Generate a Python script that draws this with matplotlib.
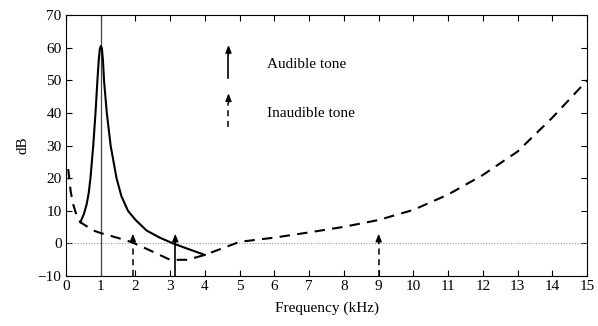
import numpy as np
import matplotlib
matplotlib.use("Agg")
import matplotlib.pyplot as plt

plt.rcParams["font.family"] = ["Liberation Serif", "DejaVu Serif"]

# masking curve around the 1 kHz masker (solid)
mask_f = [0.42, 0.52, 0.60, 0.66, 0.71, 0.79, 0.855, 0.91, 0.95, 0.98, 1.01, 1.04, 1.07, 1.10, 1.18, 1.29, 1.46, 1.60, 1.79, 2.0, 2.32, 2.7, 3.09, 3.5, 4.0]
mask_db = [6.5, 9.0, 12.0, 15.5, 20.0, 30.0, 40.0, 50.0, 56.5, 59.6, 60.5, 59.6, 56.0, 50.0, 40.0, 30.0, 20.0, 14.5, 10.0, 7.3, 4.0, 1.8, 0.0, -1.6, -3.5]

# threshold in quiet (dashed)
thr_f = [0.07, 0.14, 0.21, 0.3, 0.42, 0.79, 1.0, 1.5, 1.9, 2.5, 3.0, 3.5, 4.0, 4.5, 5.0, 6.0, 7.0, 8.0, 9.0, 10.0, 11.0, 12.0, 13.0, 14.0, 15.0]
thr_db = [22.8, 16.0, 12.1, 9.0, 6.5, 4.0, 3.2, 1.7, 0.4, -2.5, -5.0, -5.0, -3.5, -1.5, 0.5, 1.8, 3.4, 5.1, 7.2, 10.3, 15.0, 21.0, 28.2, 38.6, 50.0]

# tones
tone_f = [1.93, 3.15, 9.0]
tone_db = [3.0, 3.0, 3.0]
tone_audible = [False, True, False]

masker_f = 1.0

fig = plt.figure(figsize=(5.98, 3.26), dpi=100)
ax = fig.add_axes([0.110, 0.153, 0.872, 0.801])

ax.set_xlim(0, 15)
ax.set_ylim(-10, 70)

ax.axhline(0, color="#999999", lw=0.8, ls=(0, (1, 1.5)))
ax.axvline(masker_f, color="#444444", lw=0.9)

ax.plot(mask_f, mask_db, color="black", lw=1.5)
ax.plot(thr_f, thr_db, color="black", lw=1.5, dashes=(5, 3.5))

head = 3.0
for f, db, aud in zip(tone_f, tone_db, tone_audible):
    ls = "-" if aud else (0, (4, 3))
    ax.plot([f, f], [-10, db - head], color="black", lw=1.2 if aud else 1.1, ls=ls)
    ax.annotate("", xy=(f, db), xytext=(f, db - head),
                arrowprops=dict(arrowstyle="-|>,head_length=0.45,head_width=0.18",
                                color="black", lw=1.0, shrinkA=0, shrinkB=0))

# legend
lx = 4.68
ax.plot([lx, lx], [50.6, 57.8], color="black", lw=1.2)
ax.annotate("", xy=(lx, 60.8), xytext=(lx, 57.8),
            arrowprops=dict(arrowstyle="-|>,head_length=0.45,head_width=0.18",
                            color="black", lw=1.0, shrinkA=0, shrinkB=0))
ax.plot([lx, lx], [35.8, 43.0], color="black", lw=1.1, ls=(0, (4, 3)))
ax.annotate("", xy=(lx, 46.0), xytext=(lx, 43.0),
            arrowprops=dict(arrowstyle="-|>,head_length=0.45,head_width=0.18",
                            color="black", lw=1.0, shrinkA=0, shrinkB=0))
ax.text(5.78, 54.7, "Audible tone", fontsize=11, va="center", ha="left")
ax.text(5.78, 39.9, "Inaudible tone", fontsize=11, va="center", ha="left")

ax.set_xticks(range(0, 16))
ax.set_yticks(range(-10, 71, 10))
ax.set_yticklabels(["\u221210"] + [str(v) for v in range(0, 71, 10)])
ax.tick_params(direction="in", top=True, right=True, labelsize=11, length=4, width=0.8, pad=3)
for s in ax.spines.values():
    s.set_linewidth(0.8)

ax.set_xlabel("Frequency (kHz)", fontsize=11, labelpad=6)
ax.set_ylabel("dB", fontsize=11, labelpad=6)

fig.savefig("out.png", dpi=100)
